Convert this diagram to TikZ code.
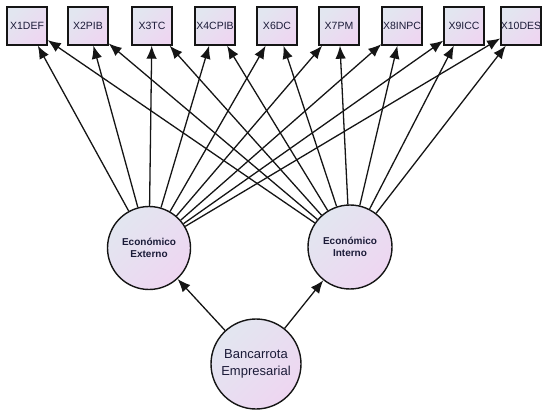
\documentclass[tikz,border=0pt]{standalone}
\usepackage{fontspec}
\setmainfont{Liberation Sans}
\usetikzlibrary{arrows.meta, positioning, shadings}
\definecolor{shadeA}{HTML}{E2E6F0}
\definecolor{shadeB}{HTML}{EED6F1}
\definecolor{ink}   {HTML}{1B1B38}
\definecolor{linec} {HTML}{151515}

\begin{document}
\begin{tikzpicture}[x=1pt, y=-1pt,
    obs/.style={draw=linec, line width=1.4pt, top color=shadeA, bottom color=shadeB, shading angle=45,
      minimum width=40pt, minimum height=38pt, inner sep=0pt, text=ink, font=\fontsize{10.5}{12}\selectfont},
    lat/.style={circle, draw=linec, line width=1.4pt, top color=shadeA, bottom color=shadeB, shading angle=45,
      inner sep=0pt, align=center, text=ink},
    arr/.style={-{Latex[length=13pt, width=10.5pt]}, line width=1.3pt, linec}]
      \useasboundingbox (0,0) rectangle (546,414);
      % indicators
      \node[obs] (x1)  at (27,26)  {X1DEF};
      \node[obs] (x2)  at (88,26)  {X2PIB};
      \node[obs] (x3)  at (152,26) {X3TC};
      \node[obs] (x4)  at (215,26) {X4CPIB};
      \node[obs] (x6)  at (277,26) {X6DC};
      \node[obs] (x7)  at (339,26) {X7PM};
      \node[obs] (x8)  at (402,26) {X8INPC};
      \node[obs] (x9)  at (464,26) {X9ICC};
      \node[obs] (x10) at (521,26) {X10DES};
      % factors
      \node[lat, minimum size=83pt, font=\bfseries\fontsize{10}{12}\selectfont] (ext) at (149,248) {Económico\\Externo};
      \node[lat, minimum size=84pt, font=\bfseries\fontsize{10}{12}\selectfont] (int) at (350,247) {Económico\\Interno};
      \node[lat, minimum size=90pt, font=\fontsize{13}{17}\selectfont] (bk) at (256,364) {Bancarrota\\Empresarial};
      % loadings
      \draw[arr] (bk) -- (ext);
      \draw[arr] (bk) -- (int);
      \draw[arr] (ext) -- (x1);
      \draw[arr] (ext) -- (x2);
      \draw[arr] (ext) -- (x3);
      \draw[arr] (ext) -- (x4);
      \draw[arr] (ext) -- (x6);
      \draw[arr] (ext) -- (x7);
      \draw[arr] (ext) -- (x8);
      \draw[arr] (ext) -- (x9);
      \draw[arr] (ext) -- (x10);
      \draw[arr] (int) -- (x1);
      \draw[arr] (int) -- (x2);
      \draw[arr] (int) -- (x3);
      \draw[arr] (int) -- (x4);
      \draw[arr] (int) -- (x6);
      \draw[arr] (int) -- (x7);
      \draw[arr] (int) -- (x8);
      \draw[arr] (int) -- (x9);
      \draw[arr] (int) -- (x10);
    \end{tikzpicture}
\end{document}
